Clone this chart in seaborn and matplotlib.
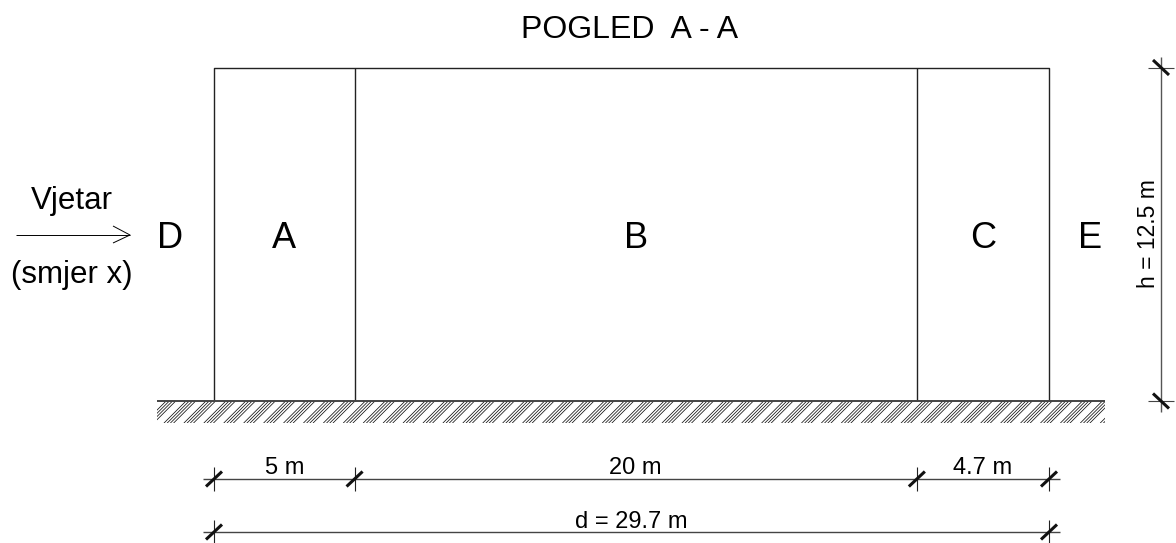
import seaborn as sns
import matplotlib.pyplot as plt
import numpy as np
import pandas as pd
from matplotlib.patches import Rectangle

# building section, metres
zone_names = ["A", "B", "C"]
zone_widths = [5, 20, 4.7]
total_width = 29.7
height = 12.5
zone_dim_labels = ["5 m", "20 m", "4.7 m"]
total_label = "d = 29.7 m"
height_label = "h = 12.5 m"
title = "POGLED  A - A"
wind_top = "Vjetar"
wind_bottom = "(smjer x)"
side_left = "D"
side_right = "E"

PX_X = 835 / total_width
PX_Y = 333.5 / height

sns.set_theme(style="white")
plt.rcParams['font.family'] = ['Liberation Sans', 'DejaVu Sans']

fig = plt.figure(figsize=(11.76, 5.43), dpi=100)
ax = fig.add_axes([0, 0, 1, 1])
ax.set_xlim(-214 / PX_X, (1176 - 214) / PX_X)
ax.set_ylim((401 - 543) / PX_Y, 401 / PX_Y)
ax.axis("off")

def px_x(p):
    return (p - 214) / PX_X

def px_y(p):
    return (401 - p) / PX_Y

def seg(x, y, lw=1.0, color="black", **kw):
    df = pd.DataFrame({"x": x, "y": y})
    sns.lineplot(data=df, x="x", y="y", ax=ax, color=color, linewidth=lw,
                 sort=False, estimator=None, legend=False,
                 solid_capstyle="butt", **kw)

def label(x, y, s, size, **kw):
    ax.text(x, y, s, fontsize=size, ha="center", va="center_baseline",
            rotation_mode="anchor", color="black", **kw)

edges = np.concatenate([[0], np.cumsum(zone_widths)])

# outline and zone walls
seg([0, 0, total_width, total_width], [0, height, height, 0], lw=1.0, color="#222222")
for e in edges[1:-1]:
    seg([e, e], [0, height], lw=1.0, color="#222222")

# ground line + hatch
clip = Rectangle((px_x(157), px_y(423)), (1105 - 157) / PX_X, 22 / PX_Y,
                 transform=ax.transData, fill=False, lw=0)
ax.add_patch(clip)
for start in np.arange(124.2, 1120, 19.92):
    for off in [0, 3.2, 6.4, 9.6]:
        ln, = ax.plot([px_x(start + off), px_x(start + off + 22)],
                      [px_y(423), px_y(401)], color="#111111", lw=0.55)
        ln.set_clip_path(clip)
seg([px_x(157), px_x(1105)], [0, 0], lw=1.4, color="#444444")

# labels inside and beside
for name, a, b in zip(zone_names, edges[:-1], edges[1:]):
    label((a + b) / 2, px_y(235), name, 26)
label(px_x(170), px_y(235), side_left, 26)
label(px_x(1090), px_y(235), side_right, 26)
label(px_x(630), px_y(26), title, 23)

# wind
label(px_x(72), px_y(197), wind_top, 22.5)
label(px_x(72), px_y(272), wind_bottom, 22.5)
seg([px_x(16), px_x(130)], [px_y(235), px_y(235)], lw=0.7)
seg([px_x(113), px_x(130), px_x(113)], [px_y(226), px_y(235), px_y(243)], lw=0.7)

def tick_h(x, y):
    seg([x, x], [y - 12 / PX_Y, y + 12 / PX_Y], lw=0.8, color="#222222")
    seg([x - 8 / PX_X, x + 8 / PX_X], [y - 7.5 / PX_Y, y + 7.5 / PX_Y], lw=2.2, color="#111111")

# horizontal dimensions
y1 = px_y(479)
y2 = px_y(532)
seg([px_x(203), px_x(1060)], [y1, y1], lw=1.0, color="#444444")
seg([px_x(203), px_x(1060)], [y2, y2], lw=1.0, color="#444444")
for e in edges:
    tick_h(e, y1)
for e in [0, total_width]:
    tick_h(e, y2)
for lab, a, b in zip(zone_dim_labels, edges[:-1], edges[1:]):
    label((a + b) / 2, px_y(466), lab, 17)
label(total_width / 2, px_y(519), total_label, 17)

# vertical dimension
xv = px_x(1161)
seg([xv, xv], [px_y(57), px_y(412)], lw=1.0, color="#555555")
for yy in [height, 0]:
    seg([px_x(1148), px_x(1174)], [yy, yy], lw=0.8, color="#444444")
    seg([xv - 8 / PX_X, xv + 8 / PX_X], [yy + 7.5 / PX_Y, yy - 7.5 / PX_Y], lw=2.2, color="#111111")
label(px_x(1146), px_y(234), height_label, 16.5, rotation=90)

fig.savefig("out.png", dpi=100)
